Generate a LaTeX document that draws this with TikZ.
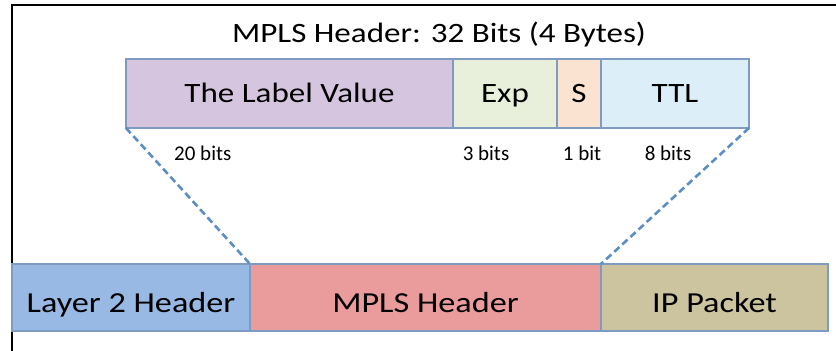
\documentclass[tikz,border=0pt]{standalone}
\usepackage{fontspec}
\setmainfont{Carlito}
\newfontfamily\widefont[FakeStretch=1.18]{Carlito}
\definecolor{edgeblue}{HTML}{7F9BC2}
\definecolor{dashblue}{HTML}{5A8EC4}
\definecolor{labelfill}{HTML}{D6C5DF}
\definecolor{expfill}{HTML}{E8EFDA}
\definecolor{sfill}{HTML}{FBE3D2}
\definecolor{ttlfill}{HTML}{DCEEF8}
\definecolor{ltwofill}{HTML}{97B9E3}
\definecolor{mplsfill}{HTML}{EA9C9D}
\definecolor{ipfill}{HTML}{CBC49F}
\tikzset{
  field/.style={draw=edgeblue, line width=1.4pt, anchor=north west, inner sep=0pt, outer sep=0pt,
    text height=18pt, text depth=0pt, font=\widefont\fontsize{28}{30}\selectfont},
  frame/.style={draw=edgeblue, line width=1.4pt, anchor=north west, inner sep=0pt, outer sep=0pt,
    text height=29pt, text depth=0pt, font=\widefont\fontsize{29}{32}\selectfont},
  bits/.style={inner sep=0pt, anchor=base, font=\fontsize{21}{24}\selectfont},
  zoomline/.style={dashblue, line width=2.6pt, dash pattern=on 7pt off 4pt}
}
\begin{document}
\begin{tikzpicture}[x=1pt, y=-1pt]
  \useasboundingbox (0,0) rectangle (836,351);
  % outer border
  \draw[line width=2pt] (836,5) -- (12,5) -- (12,351);

  % the label stack entry
  \node[anchor=base, inner sep=0pt, font=\widefont\fontsize{28}{30}\selectfont] (title) at (439,42) {MPLS Header: 32 Bits (4 Bytes)};
  \node[field, fill=labelfill, minimum width=327pt, minimum height=69pt] (lbl) at (126,59) {The Label Value};
  \node[field, fill=expfill, minimum width=104pt, minimum height=69pt] (exp) at (453,59) {Exp};
  \node[field, fill=sfill, minimum width=44pt, minimum height=69pt] (sbit) at (557,59) {S};
  \node[field, fill=ttlfill, minimum width=148pt, minimum height=69pt] (ttl) at (601,59) {TTL};

  \node[bits, anchor=base west] (b20) at (174,160) {20 bits};
  \node[bits] (b3) at (486,160) {3 bits};
  \node[bits] (b1) at (582,160) {1 bit};
  \node[bits] (b8) at (668,160) {8 bits};

  % the packet
  \node[frame, fill=ltwofill, minimum width=238pt, minimum height=67pt] (ltwo) at (12,264) {Layer 2 Header};
  \node[frame, fill=mplsfill, minimum width=351pt, minimum height=67pt] (mpls) at (250,264) {MPLS Header};
  \node[frame, fill=ipfill, minimum width=227pt, minimum height=67pt] (ip) at (601,264) {IP Packet};

  \draw[zoomline] (lbl.south west) -- (ltwo.north east);
  \draw[zoomline] (ttl.south east) -- (ip.north west);
\end{tikzpicture}
\end{document}
